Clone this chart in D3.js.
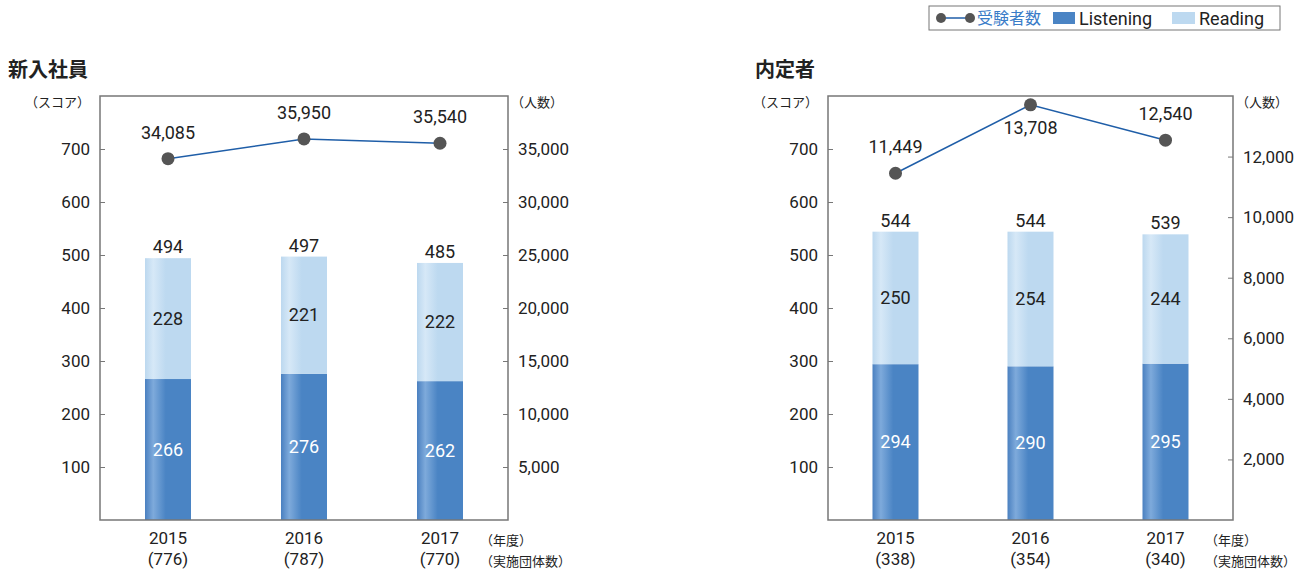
<!DOCTYPE html>
<html>
<head>
<meta charset="utf-8">
<script src="https://cdn.jsdelivr.net/npm/d3@7"></script>
<style>
  body { margin: 0; background: #fff; }
  text { font-family: Roboto, "Noto Sans CJK JP", sans-serif; fill: #222; }
  .cjk { font-family: "Noto Sans CJK JP", sans-serif; }
</style>
</head>
<body>
<script>
// data
var years = ["2015", "2016", "2017"];

var newListening = [266, 276, 262];
var newReading = [228, 221, 222];
var newTotal = [494, 497, 485];
var newExaminees = [34085, 35950, 35540];
var newGroups = ["776", "787", "770"];

var offerListening = [294, 290, 295];
var offerReading = [250, 254, 244];
var offerTotal = [544, 544, 539];
var offerExaminees = [11449, 13708, 12540];
var offerGroups = ["338", "354", "340"];

var scoreTicks = [100, 200, 300, 400, 500, 600, 700];
var newPeopleTicks = [5000, 10000, 15000, 20000, 25000, 30000, 35000];
var offerPeopleTicks = [2000, 4000, 6000, 8000, 10000, 12000];

var width = 1313, height = 572;
var listenColor = "#4a84c4", readColor = "#bdd9f0", lineColor = "#1f5ea8", dotColor = "#555";

var svg = d3.select("body").append("svg")
    .attr("width", width)
    .attr("height", height);

// gradients for the bar sheen
var defs = svg.append("defs");
function sheen(id, edge, light, base) {
    var g = defs.append("linearGradient").attr("id", id)
        .attr("x1", "0%").attr("x2", "100%").attr("y1", "0%").attr("y2", "0%");
    g.append("stop").attr("offset", "0%").attr("stop-color", edge);
    g.append("stop").attr("offset", "18%").attr("stop-color", light);
    g.append("stop").attr("offset", "45%").attr("stop-color", base);
    g.append("stop").attr("offset", "100%").attr("stop-color", base);
}
sheen("gListen", "#4a80c0", "#7eaadb", listenColor);
sheen("gRead", "#bcd8ef", "#d6e8f7", readColor);

var fmt = d3.format(",");

function drawPanel(cfg) {
    var x0 = cfg.left, x1 = cfg.right, top = 96, bottom = 520;

    var x = d3.scaleBand().domain(years).range([x0, x1]);
    var y = d3.scaleLinear().domain([0, 800]).range([bottom, top]);
    var y2 = d3.scaleLinear().domain([0, cfg.peopleMax]).range([bottom, top]);

    var g = svg.append("g");

    // title
    g.append("text").attr("class", "cjk").attr("x", cfg.titleX).attr("y", 77)
        .style("font-size", "20px").style("font-weight", "bold")
        .text(cfg.title);

    // bars
    var barW = 46;
    years.forEach(function (yr, i) {
        var cx = x(yr) + x.bandwidth() / 2;
        g.append("rect")
            .attr("x", cx - barW / 2).attr("width", barW)
            .attr("y", y(cfg.listening[i])).attr("height", y(0) - y(cfg.listening[i]))
            .attr("fill", "url(#gListen)");
        g.append("rect")
            .attr("x", cx - barW / 2).attr("width", barW)
            .attr("y", y(cfg.total[i])).attr("height", y(cfg.listening[i]) - y(cfg.total[i]))
            .attr("fill", "url(#gRead)");

        g.append("text").attr("x", cx).attr("y", (y(0) + y(cfg.listening[i])) / 2 + 6)
            .attr("text-anchor", "middle").style("font-size", "18px").style("fill", "#fff")
            .text(cfg.listening[i]);
        g.append("text").attr("x", cx).attr("y", (y(cfg.listening[i]) + y(cfg.total[i])) / 2 + 6)
            .attr("text-anchor", "middle").style("font-size", "18px")
            .text(cfg.reading[i]);
        g.append("text").attr("x", cx).attr("y", y(cfg.total[i]) - 5)
            .attr("text-anchor", "middle").style("font-size", "18px")
            .text(cfg.total[i]);

        g.append("text").attr("x", cx).attr("y", 544)
            .attr("text-anchor", "middle").style("font-size", "17px")
            .text(yr);
        g.append("text").attr("x", cx).attr("y", 565)
            .attr("text-anchor", "middle").style("font-size", "17px")
            .text("(" + cfg.groups[i] + ")");
    });

    // frame
    g.append("path")
        .attr("d", "M" + x0 + "," + top + "H" + x1 + "V" + bottom + "H" + x0 + "Z")
        .attr("fill", "none").attr("stroke", "#777").attr("stroke-width", 1.5);

    // left axis
    var axL = g.append("g").attr("transform", "translate(" + x0 + ",0)")
        .call(d3.axisLeft(y).tickValues(scoreTicks).tickSize(-5).tickPadding(10));
    axL.select(".domain").remove();
    axL.selectAll(".tick line").attr("stroke", "#777");
    axL.selectAll("text").style("font-size", "17px").style("fill", "#222")
        .style("font-family", "Roboto, sans-serif");

    // right axis
    var axR = g.append("g").attr("transform", "translate(" + x1 + ",0)")
        .call(d3.axisRight(y2).tickValues(cfg.peopleTicks).tickSize(-5).tickPadding(10).tickFormat(fmt));
    axR.select(".domain").remove();
    axR.selectAll(".tick line").attr("stroke", "#777");
    axR.selectAll("text").style("font-size", "17px").style("fill", "#222")
        .style("font-family", "Roboto, sans-serif");

    // unit labels
    g.append("text").attr("class", "cjk").attr("x", x0 - 10).attr("y", 107).attr("text-anchor", "end")
        .style("font-size", "13px").text("（スコア）");
    g.append("text").attr("class", "cjk").attr("x", x1 + 3).attr("y", 107)
        .style("font-size", "13px").text("（人数）");
    g.append("text").attr("class", "cjk").attr("x", x1 - 28).attr("y", 545)
        .style("font-size", "13px").text("（年度）");
    g.append("text").attr("class", "cjk").attr("x", x1 - 28).attr("y", 566)
        .style("font-size", "13px").text("（実施団体数）");

    // examinees line
    var line = d3.line()
        .x(function (d, i) { return x(years[i]) + x.bandwidth() / 2; })
        .y(function (d) { return y2(d); });
    g.append("path").datum(cfg.examinees)
        .attr("d", line).attr("fill", "none")
        .attr("stroke", lineColor).attr("stroke-width", 1.5);
    cfg.examinees.forEach(function (v, i) {
        var cx = x(years[i]) + x.bandwidth() / 2;
        g.append("circle").attr("cx", cx).attr("cy", y2(v)).attr("r", 6.5).attr("fill", dotColor);
        var below = cfg.labelBelow[i];
        g.append("text").attr("x", cx).attr("y", below ? y2(v) + 29 : y2(v) - 20)
            .attr("text-anchor", "middle").style("font-size", "18px")
            .text(fmt(v));
    });
}

drawPanel({
    title: "新入社員", titleX: 8, left: 100, right: 508,
    listening: newListening, reading: newReading, total: newTotal,
    examinees: newExaminees, groups: newGroups,
    peopleMax: 40000, peopleTicks: newPeopleTicks,
    labelBelow: [false, false, false]
});

drawPanel({
    title: "内定者", titleX: 755, left: 828, right: 1233,
    listening: offerListening, reading: offerReading, total: offerTotal,
    examinees: offerExaminees, groups: offerGroups,
    peopleMax: 14000, peopleTicks: offerPeopleTicks,
    labelBelow: [false, true, false]
});

// legend
var lg = svg.append("g");
lg.append("rect").attr("x", 929).attr("y", 6).attr("width", 351).attr("height", 24)
    .attr("fill", "#fff").attr("stroke", "#777").attr("stroke-width", 1);
lg.append("line").attr("x1", 941).attr("x2", 970).attr("y1", 18).attr("y2", 18)
    .attr("stroke", lineColor).attr("stroke-width", 1.5);
lg.append("circle").attr("cx", 941).attr("cy", 18).attr("r", 5).attr("fill", dotColor);
lg.append("circle").attr("cx", 970).attr("cy", 18).attr("r", 5).attr("fill", dotColor);
lg.append("text").attr("class", "cjk").attr("x", 977).attr("y", 24).style("font-size", "16px").style("fill", "#3a7cc8")
    .text("受験者数");
lg.append("rect").attr("x", 1053).attr("y", 12).attr("width", 22).attr("height", 12).attr("fill", listenColor);
lg.append("text").attr("x", 1079).attr("y", 25).style("font-size", "18px").text("Listening");
lg.append("rect").attr("x", 1172).attr("y", 12).attr("width", 23).attr("height", 12).attr("fill", readColor);
lg.append("text").attr("x", 1199).attr("y", 25).style("font-size", "18px").text("Reading");
</script>
</body>
</html>
